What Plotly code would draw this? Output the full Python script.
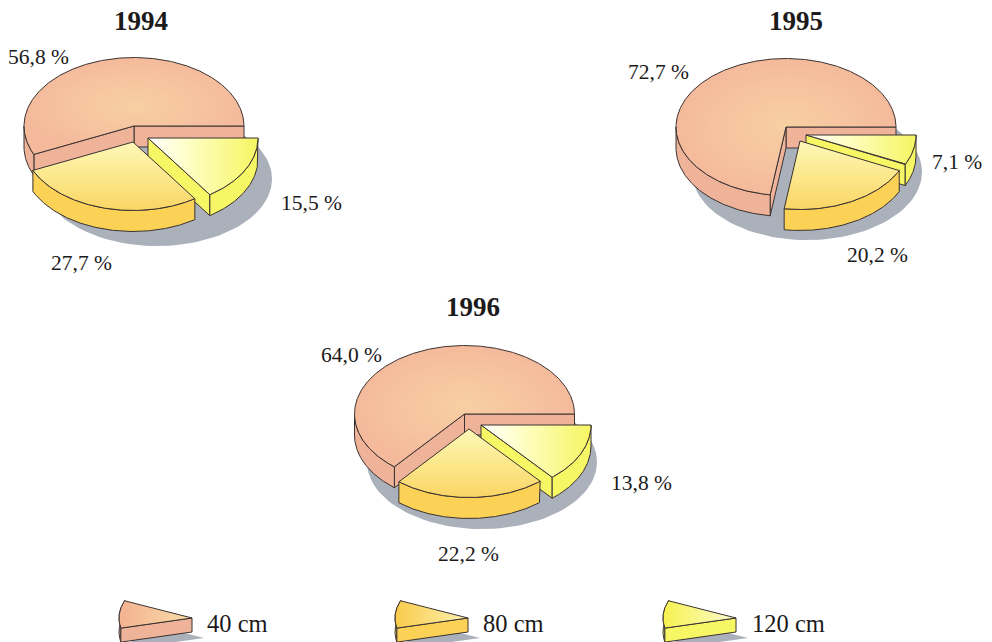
import numpy as np
import plotly.graph_objects as go

# Share of each length class per year (percent)
years = [1994, 1995, 1996]
classes = ["40 cm", "80 cm", "120 cm"]
share_40 = [56.8, 72.7, 64.0]
share_80 = [27.7, 20.2, 22.2]
share_120 = [15.5, 7.1, 13.8]

RX, RY, DEPTH = 110, 68.5, 21
INK = "#3b3231"

# Pixel placement of each pie: disc centre, exploded apexes, shadow ellipse, text anchors
placement = {
    1994: dict(c=(134, 126), a80=(133, 142), a120=(148, 138),
               shadow=(157, 179, 115, 67), title=(141, 21),
               labels=[(38, 57), (81, 263), (311, 203)]),
    1995: dict(c=(786, 127), a80=(800, 141), a120=(806, 135),
               shadow=(807, 172, 115, 68), title=(796, 21),
               labels=[(658, 72), (877, 255), (957, 162)]),
    1996: dict(c=(464.5, 414), a80=(469, 429), a120=(481, 425),
               shadow=(482, 462, 115, 67), title=(473, 307),
               labels=[(351, 355), (468, 554), (641, 483)]),
}

# Style of each class: top gradient, wall colour
styles = {
    "40 cm": dict(grad=dict(type="radial", colorscale=[[0, "#F8CFA3"], [0.6, "#F6C3A0"], [1, "#F4BA9B"]]),
                  side="#EFB39A"),
    "80 cm": dict(grad=dict(type="vertical", colorscale=[[0, "#FAD565"], [0.5, "#FCE88C"], [1, "#FDF8B8"]]),
                  side="#FBD256"),
    "120 cm": dict(grad=dict(type="horizontal", colorscale=[[0, "#FFFFFF"], [0.3, "#FFFFD0"], [1, "#F6F562"]]),
                   side="#F7F765"),
}

fig = go.Figure()


def poly(xs, ys, **kw):
    fig.add_trace(go.Scatter(x=xs, y=ys, mode="lines", fill="toself", hoverinfo="skip",
                             showlegend=False, **kw))


def arc(apex, start, end, rx=RX, ry=RY):
    t = np.radians(np.linspace(start, end, max(int(abs(end - start)) * 2, 2) + 1))
    return apex[0] + rx * np.cos(t), apex[1] - ry * np.sin(t)


def cut_wall(apex, angle, style, rx=RX, ry=RY, depth=DEPTH):
    ex = apex[0] + rx * np.cos(np.radians(angle))
    ey = apex[1] - ry * np.sin(np.radians(angle))
    poly([apex[0], ex, ex, apex[0], apex[0]],
         [apex[1], ey, ey + depth, apex[1] + depth, apex[1]],
         fillcolor=style["side"], line=dict(color=INK, width=1))


def wedge(apex, start, end, cls):
    """Draw one slice: visible cut faces, outer rim, then the top face."""
    style = styles[cls]
    if np.sin(np.radians(start - 90)) < 0:
        cut_wall(apex, start, style)
    if np.sin(np.radians(end + 90)) < 0:
        cut_wall(apex, end, style)
    lo, hi = max(start, 180), min(end, 360)
    if hi > lo:
        x, y = arc(apex, lo, hi)
        poly(np.r_[x, x[::-1], x[0]], np.r_[y, y[::-1] + DEPTH, y[0]],
             fillcolor=style["side"], line=dict(color=INK, width=1))
    x, y = arc(apex, start, end)
    poly(np.r_[apex[0], x, apex[0]], np.r_[apex[1], y, apex[1]],
         fillgradient=style["grad"], line=dict(color=INK, width=1))


annotations = []


def text(xy, s, size, bold=False, anchor="center"):
    annotations.append(dict(x=xy[0], y=xy[1], text=f"<b>{s}</b>" if bold else s, showarrow=False,
                            xref="x", yref="y", xanchor=anchor, yanchor="middle",
                            font=dict(family="Liberation Serif", size=size, color="#1c1a1a")))


for i, year in enumerate(years):
    p = placement[year]
    v40, v80, v120 = share_40[i], share_80[i], share_120[i]
    end40 = v40 * 3.6
    end80 = end40 + v80 * 3.6

    sx, sy, srx, sry = p["shadow"]
    t = np.radians(np.arange(0, 361, 3))
    poly(sx + srx * np.cos(t), sy + sry * np.sin(t), fillcolor="#ABB1BA", line=dict(width=0))

    wedge(p["c"], 0, end40, "40 cm")
    wedge(p["a120"], end80, 360, "120 cm")
    wedge(p["a80"], end40, end80, "80 cm")

    text(p["title"], str(year), 27, bold=True)
    for xy, v in zip(p["labels"], (v40, v80, v120)):
        text(xy, f"{v:.1f}".replace(".", ",") + " %", 21.5)

# Key: a small slice for each length class
key_apex = [192, 468, 736]
key_text = [205, 481, 750]
key_grads = {
    "40 cm": ["#F4B292", "#F9DCA6"],
    "80 cm": ["#F9CB4C", "#FCF2B0"],
    "120 cm": ["#F7F24E", "#FBFBD2"],
}
for cls, ax, tx in zip(classes, key_apex, key_text):
    apex = (ax, 618)
    x, y = arc(apex, 157, 193, rx=73, ry=45)
    poly(np.r_[ax, x, ax] + 12, np.r_[618, y, 618] + 20, fillcolor="#ABB1BA", line=dict(width=0))
    poly(np.r_[x, x[::-1], x[0]], np.r_[y, y[::-1] + 14, y[0]],
         fillcolor=styles[cls]["side"], line=dict(color=INK, width=1))
    poly([x[-1], ax, ax, x[-1], x[-1]], [y[-1], 618, 632, y[-1] + 14, y[-1]],
         fillcolor=styles[cls]["side"], line=dict(color=INK, width=1))
    c0, c1 = key_grads[cls]
    poly(np.r_[ax, x, ax], np.r_[618, y, 618],
         fillgradient=dict(type="horizontal", colorscale=[[0, c0], [1, c1]]),
         line=dict(color=INK, width=1))
    text((tx, 623), cls, 24.5, anchor="left")

fig.update_layout(
    width=992, height=642, margin=dict(l=0, r=0, t=0, b=0),
    paper_bgcolor="white", plot_bgcolor="white", showlegend=False,
    xaxis=dict(range=[0, 992], visible=False, fixedrange=True),
    yaxis=dict(range=[642, 0], visible=False, fixedrange=True),
    annotations=annotations,
)
fig.write_html("out.html", config=dict(displayModeBar=False))
